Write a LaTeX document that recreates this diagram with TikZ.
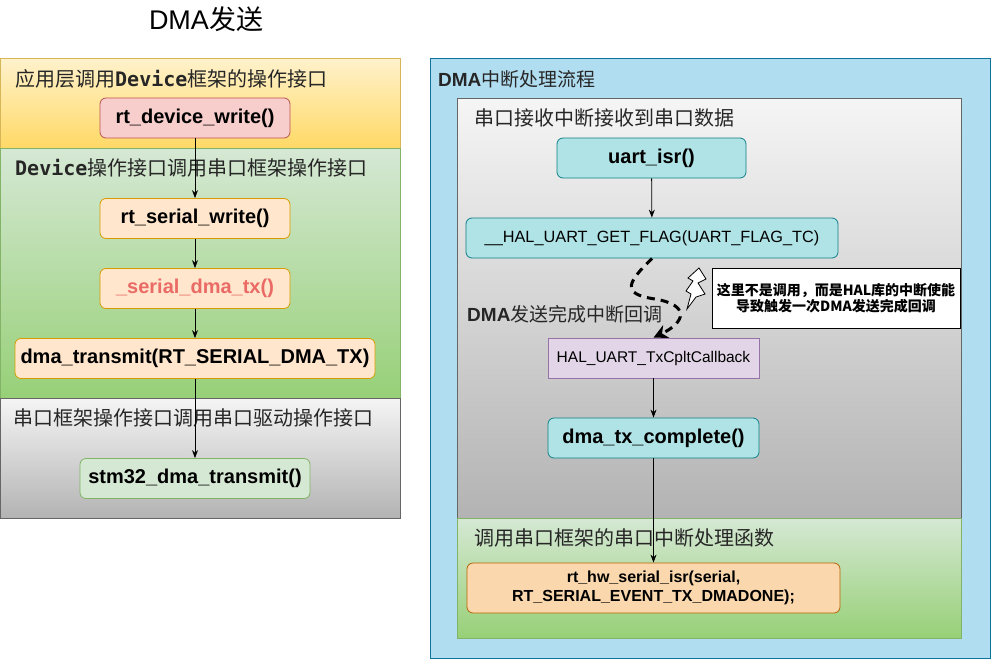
\documentclass[tikz,border=0pt]{standalone}
\usepackage{fontspec}
\setmainfont{Liberation Sans}
\setmonofont{DejaVu Sans Mono}
\newfontfamily\cjk{Noto Sans CJK SC}
\usetikzlibrary{arrows.meta}

\definecolor{redF}{HTML}{F8CECC}\definecolor{redB}{HTML}{B85450}
\definecolor{orF}{HTML}{FFE6CC}\definecolor{orB}{HTML}{D79B00}
\definecolor{grF}{HTML}{D5E8D4}\definecolor{grB}{HTML}{82B366}
\definecolor{cyF}{HTML}{B0E3E6}\definecolor{cyB}{HTML}{0E8088}
\definecolor{purF}{HTML}{E1D5E7}\definecolor{purB}{HTML}{9673A6}
\definecolor{peachF}{HTML}{FAD7AC}\definecolor{peachB}{HTML}{B46504}
\definecolor{blueF}{HTML}{B1DDF0}\definecolor{blueB}{HTML}{10739E}
\definecolor{yelT}{HTML}{FFF2CC}\definecolor{yelBot}{HTML}{FFD966}\definecolor{yelB}{HTML}{D6B656}
\definecolor{gryT}{HTML}{F5F5F5}\definecolor{gryBot}{HTML}{B3B3B3}\definecolor{gryB}{HTML}{666666}
\definecolor{grnBot}{HTML}{97D077}
\definecolor{redTxt}{HTML}{EA6B66}

\begin{document}
\begin{tikzpicture}[x=1pt,y=-1pt,
  panel/.style={draw, line width=0.8pt, anchor=north west, inner sep=0pt, outer sep=0pt},
  yelband/.style={panel, draw=yelB, top color=yelT, bottom color=yelBot},
  grnband/.style={panel, draw=grB, top color=grF, bottom color=grnBot},
  gryband/.style={panel, draw=gryB, top color=gryT, bottom color=gryBot},
  lbl/.style={anchor=west, inner sep=0pt, text=black!85, font=\fontsize{20}{24}\selectfont},
  fn/.style={draw, rounded corners=6pt, line width=0.8pt, minimum height=40pt, inner sep=0pt,
             font=\fontsize{20}{24}\selectfont\bfseries},
  arr/.style={-{Stealth[length=8pt,width=6pt]}, line width=0.8pt},
]
\useasboundingbox (0,0) rectangle (991,659);

% title
\node[font=\fontsize{27}{32}\selectfont, inner sep=0pt] (title) at (206,19) {DMA{\cjk 发送}};

% ---------- left panel ----------
\node[yelband, minimum width=400pt, minimum height=90pt] (L1) at (0.5,58) {};
\node[grnband, minimum width=400pt, minimum height=250pt] (L2) at (0.5,148) {};
\node[gryband, minimum width=400pt, minimum height=120pt] (L3) at (0.5,398) {};

\node[lbl] (t1) at (15,79) {{\cjk 应用层调用}{\ttfamily\bfseries Device}{\cjk 框架的操作接口}};
\node[lbl] (t2) at (15,168) {{\ttfamily\bfseries Device}{\cjk 操作接口调用串口框架操作接口}};
\node[lbl] (t3) at (13,418) {{\cjk 串口框架操作接口调用串口驱动操作接口}};

\node[fn, fill=redF, draw=redB, minimum width=190pt] (n1) at (195,118) {rt\_device\_write()};
\node[fn, fill=orF, draw=orB, minimum width=190pt] (n2) at (195,218.5) {rt\_serial\_write()};
\node[fn, fill=orF, draw=orB, minimum width=190pt, text=redTxt] (n3) at (195,288.5) {\_serial\_dma\_tx()};
\node[fn, fill=orF, draw=orB, minimum width=360pt] (n4) at (195,358.5) {dma\_transmit(RT\_SERIAL\_DMA\_TX)};
\node[fn, fill=grF, draw=grB, minimum width=230pt] (n5) at (195,478.5) {stm32\_dma\_transmit()};

\draw[arr] (n1) -- (n2);
\draw[arr] (n2) -- (n3);
\draw[arr] (n3) -- (n4);
\draw[arr] (n4) -- (n5);

% ---------- right panel ----------
\node[panel, draw=blueB, fill=blueF, minimum width=560pt, minimum height=600pt] (R0) at (430,58) {};
\node[gryband, minimum width=504pt, minimum height=420pt] (R1) at (457,98) {};
\node[grnband, minimum width=504pt, minimum height=120pt] (R2) at (457,518) {};

\node[lbl, font=\fontsize{19}{23}\selectfont] (h0) at (438,79) {{\bfseries DMA}{\cjk 中断处理流程}};
\node[lbl] (h1) at (474,118) {{\cjk 串口接收中断接收到串口数据}};
\node[lbl, font=\fontsize{19}{23}\selectfont] (h2) at (467,314) {{\bfseries DMA}{\cjk 发送完成中断回调}};
\node[lbl] (h3) at (474,538) {{\cjk 调用串口框架的串口中断处理函数}};

\node[fn, fill=cyF, draw=cyB, minimum width=189pt] (u1) at (651.5,158) {uart\_isr()};
\node[fn, fill=cyF, draw=cyB, minimum width=372pt, font=\fontsize{16.3}{20}\selectfont] (gf) at (652,238) {\_\_HAL\_UART\_GET\_FLAG(UART\_FLAG\_TC)};
\node[draw=purB, fill=purF, line width=0.8pt, minimum width=211pt, minimum height=40pt, inner sep=0pt,
      font=\fontsize{15.5}{18}\selectfont] (cb) at (653.5,358) {HAL\_UART\_TxCpltCallback};
\node[fn, fill=cyF, draw=cyB, minimum width=211pt] (dc) at (653.5,438) {dma\_tx\_complete()};
\node[fn, fill=peachF, draw=peachB, minimum width=373pt, minimum height=50pt, align=center,
      font=\fontsize{16}{19}\selectfont\bfseries] (hw) at (653.5,588)
      {rt\_hw\_serial\_isr(serial,\\RT\_SERIAL\_EVENT\_TX\_DMADONE);};

\node[draw=black, fill=white, line width=0.8pt, minimum width=248pt, minimum height=60pt, inner sep=0pt,
      align=center, font=\cjk\bfseries\fontsize{14}{16}\selectfont] (note) at (836,298)
      {这里不是调用，而是HAL库的中断使能\\导致触发一次DMA发送完成回调};

% lightning bolt
\draw[fill=white, line width=0.8pt, line join=miter]
  (699,268) -- (706,279) -- (698,283) -- (705,294) -- (696,297) -- (687,309)
  -- (691,294) -- (686,291) -- (693,281) -- (688,278) -- cycle;

\draw[arr] (u1) -- (gf);
\draw[line width=3pt, dash pattern=on 8pt off 6pt, -{Stealth[length=14pt,width=14pt]}]
  (gf.south) .. controls (628,282) and (620,294) .. (655,299)
  .. controls (690,305) and (686,322) .. (cb.north);
\draw[arr] (cb) -- (dc);
\draw[arr] (dc) -- (hw);
\end{tikzpicture}
\end{document}
